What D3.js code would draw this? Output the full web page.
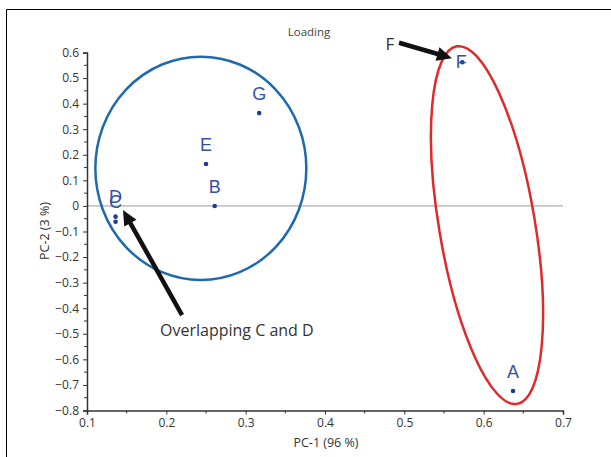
<!DOCTYPE html>
<html><head><meta charset="utf-8">
<script src="https://cdn.jsdelivr.net/npm/d3@7"></script>
<style>body{margin:0;background:#fff}svg{display:block}</style>
</head><body>
<svg id="c" width="611" height="457"></svg>
<script>
const labels = ["A","B","C","D","E","F","G"];
const pc1 = [0.637, 0.261, 0.136, 0.136, 0.250, 0.573, 0.317];
const pc2 = [-0.724, 0.000, -0.062, -0.042, 0.164, 0.562, 0.363];
const labelDy = [-13, -13, -14, -14, -13, 6, -13];
const xTicks = [0.1,0.2,0.3,0.4,0.5,0.6,0.7];
const yTicks = [0.6,0.5,0.4,0.3,0.2,0.1,0,-0.1,-0.2,-0.3,-0.4,-0.5,-0.6,-0.7,-0.8];

const svg = d3.select("#c");
const x = d3.scaleLinear().domain([0.1,0.7]).range([87,563]);
const y = d3.scaleLinear().domain([-0.8,0.6]).range([410.5,52.5]);
const font = "'Open Sans', 'Noto Sans', sans-serif";

// frame
svg.append("path").attr("d","M6.5,460 V9.5 H615").attr("fill","none").attr("stroke","#000").attr("stroke-width",1);

// zero line
svg.append("line").attr("x1",x(0.1)).attr("x2",x(0.7)).attr("y1",y(0)).attr("y2",y(0))
  .attr("stroke","#9a9a9a").attr("stroke-width",1);

// axes + minor ticks
const xMinor = d3.range(0.15,0.7,0.1);
const yMinor = d3.range(-0.75,0.6,0.1);
const gx = svg.append("g").attr("transform",`translate(0,${y(-0.8)})`);
gx.call(d3.axisBottom(x).tickValues(xTicks).tickFormat(d3.format(".1f")).tickSize(4).tickPadding(4));
gx.selectAll(".minor").data(xMinor).enter().append("line").attr("x1",d=>x(d)).attr("x2",d=>x(d)).attr("y1",0).attr("y2",3).attr("stroke","#333");
const gy = svg.append("g").attr("transform",`translate(${x(0.1)},0)`);
gy.call(d3.axisLeft(y).tickValues(yTicks).tickFormat(d=>d===0?"0":d3.format(".1f")(d)).tickSize(4).tickPadding(4));
gy.selectAll(".minor").data(yMinor).enter().append("line").attr("y1",d=>y(d)).attr("y2",d=>y(d)).attr("x1",0).attr("x2",-3).attr("stroke","#333");
[gx,gy].forEach(g=>{
  g.select(".domain").attr("stroke","#333").attr("stroke-width",1.5);
  g.selectAll(".tick line").attr("stroke","#333");
  g.selectAll("text").attr("font-family",font).attr("font-size",12).attr("fill","#333");
});

// titles
svg.append("text").attr("x",309).attr("y",36).attr("text-anchor","middle").attr("font-family",font).attr("font-size",11.5).attr("fill","#444").text("Loading");
svg.append("text").attr("x",326).attr("y",447).attr("text-anchor","middle").attr("font-family",font).attr("font-size",12.5).attr("fill","#333").text("PC-1 (96 %)");
svg.append("text").attr("transform","translate(49,231) rotate(-90)").attr("text-anchor","middle").attr("font-family",font).attr("font-size",12.5).attr("fill","#333").text("PC-2 (3 %)");

// ellipses
svg.append("ellipse").attr("cx",x(0.2435)).attr("cy",y(0.147)).attr("rx",105.5).attr("ry",111.7)
  .attr("fill","none").attr("stroke","#1f6aae").attr("stroke-width",2.5);
svg.append("ellipse").attr("cx",0).attr("cy",0).attr("rx",47.9).attr("ry",181.3)
  .attr("transform",`translate(${x(0.6042)},${y(-0.075)}) rotate(-9.57)`)
  .attr("fill","none").attr("stroke","#e02a2a").attr("stroke-width",2.5);

// points
const idx = d3.range(labels.length);
svg.selectAll(".pt").data(idx).enter().append("circle").attr("class","pt")
  .attr("cx",i=>x(pc1[i])).attr("cy",i=>y(pc2[i])).attr("r",2.3).attr("fill","#1f3a94");
svg.selectAll(".lb").data(idx).enter().append("text").attr("class","lb")
  .attr("x",i=>x(pc1[i])-(labels[i]==="F"?1:0)).attr("y",i=>y(pc2[i])+labelDy[i])
  .attr("text-anchor","middle").attr("font-family","'Liberation Sans', Arial, sans-serif").attr("font-size",18)
  .attr("fill","#3550a6").text(i=>labels[i]);

// arrows
function arrow(x1,y1,x2,y2){
  const X1=x(x1),Y1=y(y1),X2=x(x2),Y2=y(y2);
  const ang=Math.atan2(Y2-Y1,X2-X1), L=15, W=7;
  const bx=X2-L*Math.cos(ang), by=Y2-L*Math.sin(ang);
  svg.append("line").attr("x1",X1).attr("y1",Y1).attr("x2",bx+2*Math.cos(ang)).attr("y2",by+2*Math.sin(ang))
    .attr("stroke","#111").attr("stroke-width",4.5);
  const px=-Math.sin(ang), py=Math.cos(ang);
  svg.append("path").attr("d",`M${X2},${Y2} L${bx+W*px},${by+W*py} L${bx-W*px},${by-W*py} Z`).attr("fill","#111");
}
arrow(0.4933,0.638,0.560,0.578);
arrow(0.2198,-0.427,0.1454,-0.016);

svg.append("text").attr("x",390).attr("y",50).attr("text-anchor","middle").attr("font-family",font).attr("font-size",17).attr("fill","#333").text("F");
svg.append("text").attr("x",160).attr("y",336).attr("font-family",font).attr("font-size",16).attr("fill","#333").text("Overlapping C and D");
</script>
</body></html>
